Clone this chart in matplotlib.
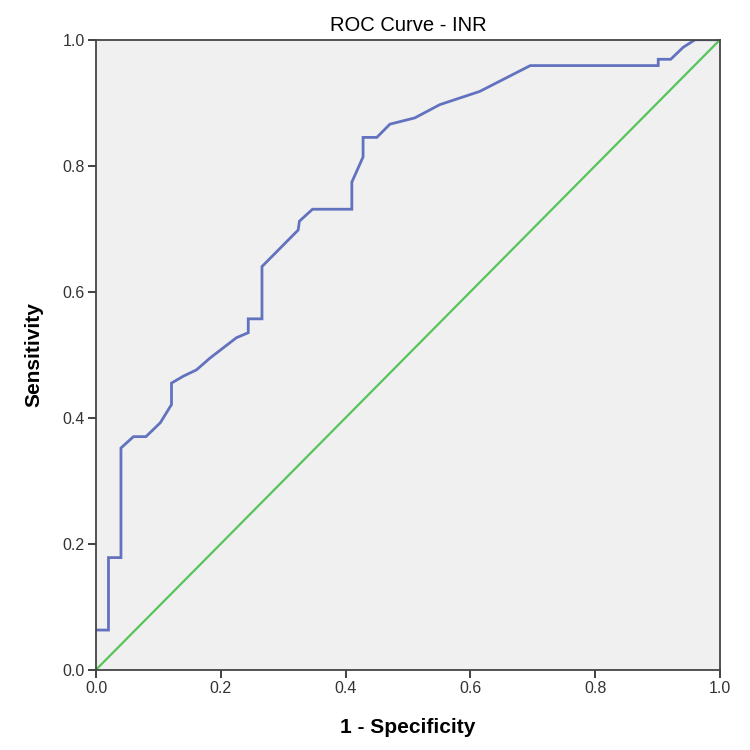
import matplotlib
matplotlib.use("Agg")
import matplotlib.pyplot as plt

plt.rcParams['font.family'] = ['Liberation Sans', 'DejaVu Sans']

# ROC points (1 - specificity, sensitivity)
fpr = [0.0, 0.020, 0.020, 0.040, 0.040, 0.060, 0.080, 0.103, 0.121, 0.121,
       0.140, 0.161, 0.183, 0.225, 0.244, 0.244, 0.266, 0.266, 0.324, 0.326,
       0.347, 0.410, 0.410, 0.428, 0.428, 0.450, 0.471, 0.511, 0.551, 0.615,
       0.696, 0.901, 0.901, 0.921, 0.941, 0.960, 1.0]
tpr = [0.063, 0.063, 0.178, 0.178, 0.352, 0.370, 0.370, 0.392, 0.421, 0.455,
       0.466, 0.476, 0.495, 0.527, 0.535, 0.557, 0.557, 0.640, 0.698, 0.712,
       0.731, 0.731, 0.774, 0.814, 0.845, 0.845, 0.866, 0.876, 0.897, 0.918,
       0.959, 0.959, 0.969, 0.969, 0.988, 1.0, 1.0]
ref = [0.0, 1.0]
ticks = [0.0, 0.2, 0.4, 0.6, 0.8, 1.0]
tick_labels = ['0.0', '0.2', '0.4', '0.6', '0.8', '1.0']

fig = plt.figure(figsize=(7.5, 7.5), dpi=100)
ax = fig.add_axes([0.128, 0.107, 0.832, 0.840])
ax.set_facecolor('#f0f0f0')

ax.plot(fpr, tpr, color='#6272bf', lw=2.0, solid_joinstyle='miter')
ax.plot(ref, ref, color='#55c45a', lw=1.6)

ax.set_xlim(0, 1)
ax.set_ylim(0, 1)
ax.set_xticks(ticks)
ax.set_yticks(ticks)
ax.set_xticklabels(tick_labels, fontsize=11.5, color='#333333')
ax.set_yticklabels(tick_labels, fontsize=11.5, color='#333333')
ax.tick_params(direction='out', length=6, width=1.3, color='#333333', pad=2)

for s in ax.spines.values():
    s.set_color('#444444')
    s.set_linewidth(1.3)

ax.set_title('ROC Curve - INR', fontsize=14.5, pad=6)
ax.set_xlabel('1 - Specificity', fontsize=15, fontweight='bold', labelpad=16)
ax.set_ylabel('Sensitivity', fontsize=15, fontweight='bold', labelpad=14)

plt.savefig('out.png', dpi=100, facecolor='white')
